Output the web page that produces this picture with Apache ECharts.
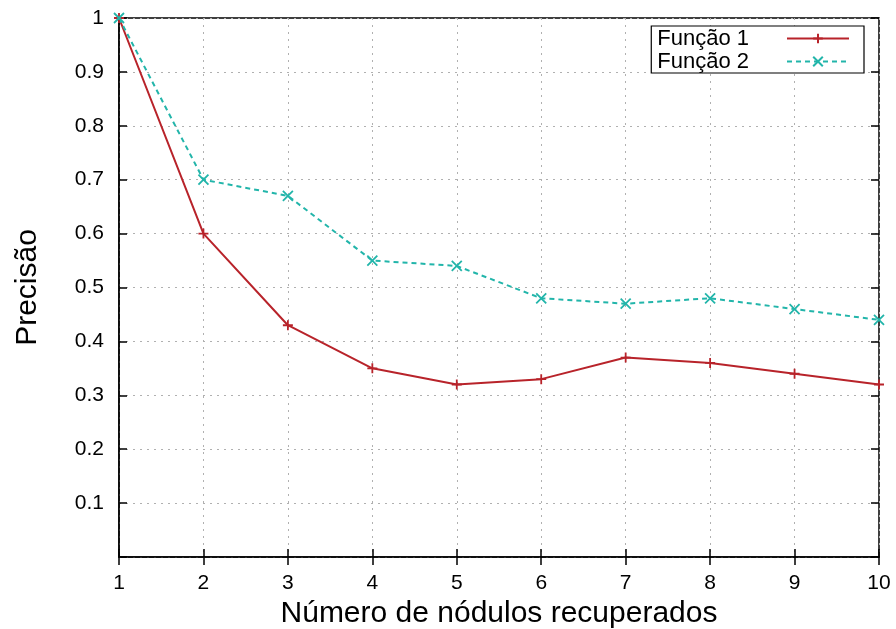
<!DOCTYPE html>
<html><head><meta charset="utf-8">
<script src="https://cdn.jsdelivr.net/npm/echarts@6/dist/echarts.min.js"></script>
<style>html,body{margin:0;padding:0;background:#fff}#c{width:896px;height:629px}</style>
</head><body><div id="c"></div>
<script>
const xValues = [1, 2, 3, 4, 5, 6, 7, 8, 9, 10];
const funcao1 = [1, 0.6, 0.43, 0.35, 0.32, 0.33, 0.37, 0.36, 0.34, 0.32];
const funcao2 = [1, 0.7, 0.67, 0.55, 0.54, 0.48, 0.47, 0.48, 0.46, 0.44];
const seriesNames = ['Função 1', 'Função 2'];
const xTitle = 'Número de nódulos recuperados';
const yTitle = 'Precisão';

const FONT = '"Liberation Sans", Arial, sans-serif';
const plus = 'path://M0,5L10,5M5,0L5,10';
const cross = 'path://M0,0L10,10M10,0L0,10';
const gridLine = {show: true, lineStyle: {color: '#b0b0b0', width: 1, type: [2, 5]}};
const tick = {show: true, inside: true, length: 8, lineStyle: {color: '#000', width: 1.5}};

const chart = echarts.init(document.getElementById('c'), null, {renderer: 'canvas'});
chart.setOption({
  animation: false,
  backgroundColor: '#fff',
  grid: {left: 119, right: 17, top: 18, bottom: 72, outerBoundsMode: 'none', containLabel: false,
    show: true, borderColor: '#000', borderWidth: 1.5, backgroundColor: 'transparent'},
  legend: {
    right: 32, top: 26,
    align: 'right',
    orient: 'vertical',
    itemWidth: 62, itemHeight: 12, itemGap: 0,
    padding: [1, 14, 0, 6],
    borderColor: '#000', borderWidth: 1.2, backgroundColor: '#fff',
    textStyle: {fontFamily: FONT, fontSize: 22, color: '#000', lineHeight: 23, padding: [0, 33, 0, 0]},
    data: seriesNames
  },
  xAxis: [{
    type: 'value', min: 1, max: 10, interval: 1, position: 'bottom',
    name: xTitle, nameLocation: 'middle', nameGap: 40,
    nameTextStyle: {fontFamily: FONT, fontSize: 30, color: '#000'},
    axisLine: {show: true, lineStyle: {color: '#000', width: 1.5}},
    axisTick: tick,
    axisLabel: {fontFamily: FONT, fontSize: 21, color: '#000', margin: 16},
    splitLine: gridLine
  }, {
    type: 'value', min: 1, max: 10, interval: 1, position: 'top',
    axisLine: {show: false}, axisTick: tick, axisLabel: {show: false}, splitLine: {show: false}
  }],
  yAxis: [{
    type: 'value', min: 0, max: 1, interval: 0.1, position: 'left',
    name: yTitle, nameLocation: 'middle', nameGap: 76, nameRotate: 90,
    nameTextStyle: {fontFamily: FONT, fontSize: 30, color: '#000'},
    axisLine: {show: true, lineStyle: {color: '#000', width: 1.5}},
    axisTick: tick,
    axisLabel: {fontFamily: FONT, fontSize: 21, color: '#000', margin: 15,
      formatter: v => (Math.abs(v) < 1e-9 ? '' : (Math.round(v * 10) / 10).toString())},
    splitLine: gridLine
  }, {
    type: 'value', min: 0, max: 1, interval: 0.1, position: 'right',
    axisLine: {show: false}, axisTick: tick, axisLabel: {show: false}, splitLine: {show: false}
  }],
  series: [{
    name: seriesNames[0], type: 'line',
    data: xValues.map((x, i) => [x, funcao1[i]]),
    symbol: plus, symbolSize: 10, showSymbol: true,
    lineStyle: {color: '#b8232a', width: 2},
    itemStyle: {color: 'rgba(0,0,0,0)', borderColor: '#b8232a', borderWidth: 1.8},
    z: 3
  }, {
    name: seriesNames[1], type: 'line',
    data: xValues.map((x, i) => [x, funcao2[i]]),
    symbol: cross, symbolSize: 10, showSymbol: true,
    lineStyle: {color: '#22b5aa', width: 2, type: [5, 4]},
    itemStyle: {color: 'rgba(0,0,0,0)', borderColor: '#22b5aa', borderWidth: 1.8},
    z: 3
  }]
});
</script></body></html>
